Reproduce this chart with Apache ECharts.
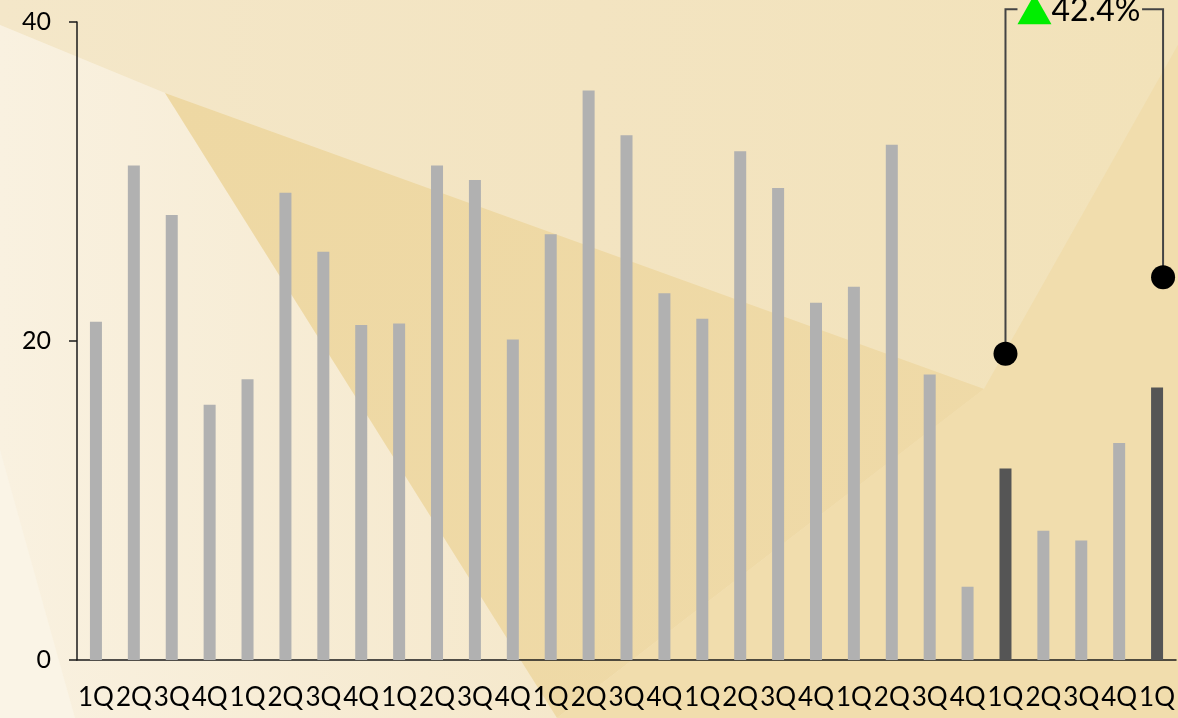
<!DOCTYPE html>
<html>
<head>
<meta charset="utf-8">
<style>
  html, body { margin: 0; padding: 0; background: #f4e7c8; }
  #chart { width: 1178px; height: 718px; }
</style>
<script src="https://cdn.jsdelivr.net/npm/echarts@6/dist/echarts.min.js"></script>
</head>
<body>
<div id="chart"></div>
<script>
// Quarterly values, oldest first
const quarters = [
  '1Q','2Q','3Q','4Q','1Q','2Q','3Q','4Q','1Q','2Q','3Q','4Q','1Q','2Q','3Q',
  '4Q','1Q','2Q','3Q','4Q','1Q','2Q','3Q','4Q','1Q','2Q','3Q','4Q','1Q'
];
const values = [
  21.2, 31.0, 27.9, 16.0, 17.6, 29.3, 25.6, 21.0, 21.1, 31.0, 30.1, 20.1, 26.7, 35.7, 32.9,
  23.0, 21.4, 31.9, 29.6, 22.4, 23.4, 32.3, 17.9, 4.6, 12.0, 8.1, 7.5, 13.6, 17.09
];
// The two first-quarter bars being compared
const compareIdx = [24, 28];
// Marker dot levels above the compared bars
const markerValues = [19.2, 24.0];
const yTicks = [0, 20, 40];

const growth = ((values[compareIdx[1]] / values[compareIdx[0]] - 1) * 100).toFixed(1) + '%';

const FONT = 'Lato, sans-serif';

const barData = values.map((v, i) => ({
  value: v,
  itemStyle: { color: compareIdx.includes(i) ? '#555555' : '#b1b1b1' }
}));

const dotData = compareIdx.map((idx, k) => ({
  value: [idx, markerValues[k]],
  symbolOffset: k === 1 ? [6, 0] : [0, 0]
}));

// Faceted warm background
const bg = [
  { pts: [[0,0],[1178,0],[1178,718],[0,718]], fill: { type: 'linear', x: 0, y: 0, x2: 1, y2: 0,
      colorStops: [{ offset: 0, color: '#f6ebd2' }, { offset: 1, color: '#f1dfb0' }] } },
  { pts: [[0,0],[1178,0],[1178,45],[984,389],[165,93],[0,25]], fill: { type: 'linear', x: 0, y: 0, x2: 1, y2: 0,
      colorStops: [{ offset: 0, color: '#f4e7c9' }, { offset: 0.5, color: '#f3e4c1' }, { offset: 1, color: '#f2e2b9' }] } },
  { pts: [[0,25],[165,93],[557,718],[0,718]], fill: { type: 'linear', x: 0, y: 0, x2: 1, y2: 0,
      colorStops: [{ offset: 0, color: '#f9f1e0' }, { offset: 1, color: '#f5e8cb' }] } },
  { pts: [[165,93],[984,389],[557,718]], fill: { type: 'linear', x: 0, y: 0, x2: 1, y2: 1,
      colorStops: [{ offset: 0, color: '#eed8a3' }, { offset: 1, color: '#efdaa8' }] } },
  { pts: [[984,389],[1178,45],[1178,718],[557,718]], fill: '#f1ddad' },
  { pts: [[0,450],[75,718],[0,718]], fill: '#faf4e6' }
];

const chart = echarts.init(document.getElementById('chart'), null, { renderer: 'canvas' });

chart.setOption({
  animation: false,
  backgroundColor: 'transparent',
  graphic: bg.map(p => ({
    type: 'polygon', z: -100, silent: true,
    shape: { points: p.pts },
    style: { fill: p.fill }
  })),
  grid: { left: 77, right: 1, top: 22, bottom: 58, containLabel: false },
  xAxis: {
    type: 'category',
    data: quarters,
    axisLine: { show: true, lineStyle: { color: '#1a1a1a', width: 1.5 } },
    axisTick: { show: false },
    axisLabel: { interval: 0, margin: 25, color: '#000', fontSize: 26, fontFamily: FONT }
  },
  yAxis: {
    type: 'value',
    min: 0, max: 40, interval: 20,
    axisLine: { show: true, lineStyle: { color: '#1a1a1a', width: 1.5 } },
    axisTick: { show: true, length: 8, lineStyle: { color: '#1a1a1a', width: 1.5 } },
    splitLine: { show: false },
    axisLabel: {
      margin: 26, color: '#000', fontSize: 25, fontFamily: FONT,
      formatter: v => yTicks.includes(v) ? String(v) : ''
    }
  },
  series: [
    {
      type: 'bar',
      data: barData,
      barWidth: 12,
      z: 2
    },
    {
      type: 'scatter',
      data: dotData,
      symbol: 'circle',
      symbolSize: 24,
      itemStyle: { color: '#000', opacity: 1 },
      z: 4
    },
    {
      // Bracket connecting the two marker dots with the growth label on top
      type: 'custom',
      clip: false,
      z: 3,
      data: [[compareIdx[0], markerValues[0], compareIdx[1], markerValues[1], 40.8]],
      renderItem: function (params, api) {
        const a = api.coord([api.value(0), api.value(1)]);
        const b = api.coord([api.value(2), api.value(3)]);
        const top = api.coord([api.value(0), api.value(4)])[1];
        const bx = b[0] + 6;
        const line = { stroke: '#444', lineWidth: 2 };
        return {
          type: 'group',
          children: [
            { type: 'polyline', shape: { points: [[a[0], a[1]], [a[0], top], [a[0] + 12, top]] }, style: Object.assign({ fill: null }, line) },
            { type: 'polyline', shape: { points: [[bx - 21, top], [bx, top], [bx, b[1]]] }, style: Object.assign({ fill: null }, line) },
            { type: 'polygon', shape: { points: [[a[0] + 12, top + 15], [a[0] + 46, top + 15], [a[0] + 29, top - 15]] }, style: { fill: '#00ee00' } },
            { type: 'text', style: { text: growth, x: a[0] + 46, y: top + 1, fill: '#000', fontSize: 32, fontFamily: FONT, textAlign: 'left', textVerticalAlign: 'middle' } }
          ]
        };
      }
    }
  ]
});
</script>
</body>
</html>
